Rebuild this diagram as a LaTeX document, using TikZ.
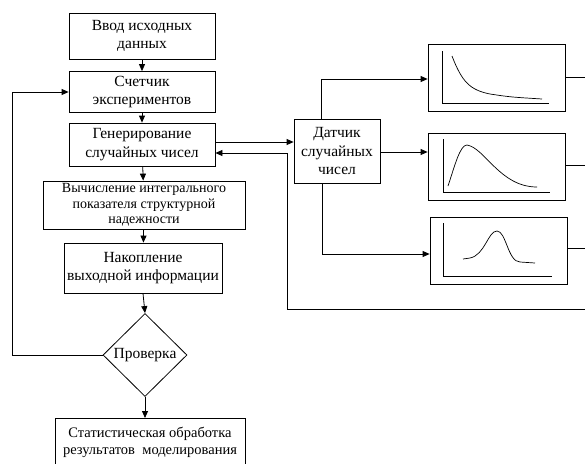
\documentclass[tikz,border=0pt]{standalone}
\usepackage{fontspec}
\setmainfont{Liberation Serif}
\usetikzlibrary{shapes.geometric,arrows.meta}
\begin{document}
\begin{tikzpicture}[x=1pt,y=-1pt,
  line width=0.8pt,
  box/.style={draw, rectangle, inner sep=0pt, align=center, font=\fontsize{15.5}{18.5}\selectfont},
  smallbox/.style={box, font=\fontsize{14}{15.5}\selectfont},
  statbox/.style={box, font=\fontsize{14.5}{16.5}\selectfont},
  dia/.style={draw, diamond, inner sep=0pt, minimum width=84, minimum height=83, font=\fontsize{15.5}{18.5}\selectfont},
  arr/.style={-{Triangle[length=7pt,width=6pt]}},
  curve/.style={line width=0.7pt}]
\useasboundingbox (0,0) rectangle (585,463);
\clip (0,0) rectangle (585,463);
% left column
\node[box, minimum width=146, minimum height=46] (b1) at (142,36) {Ввод исходных\\данных};
\node[box, minimum width=146, minimum height=41] (b2) at (142,92) {Счетчик\\экспериментов};
\node[box, minimum width=146, minimum height=43] (b3) at (142,144.5) {Генерирование\\случайных чисел};
\node[smallbox, minimum width=202, minimum height=48] (b4) at (144,205) {Вычисление интегрального\\показателя структурной\\надежности};
\node[box, minimum width=158, minimum height=50] (b5) at (143,268) {Накопление\\выходной информации};
\node[dia] (d) at (145,355) {Проверка};
\node[statbox, minimum width=190, minimum height=48, anchor=north] (b6) at (150,418) {Статистическая обработка\\результатов\ \ моделирования};
\draw[arr] (b1) -- (b2);
\draw[arr] (b2) -- (b3);
\draw[arr] (b3) -- (b4);
\draw[arr] (b4) -- (b5);
\draw[arr] (b5.south) -- (d.north);
\draw[arr] (d.south) -- (b6.north -| d.south);
\draw[arr] (d.west) -- (12,355) -- (12,92) -- (b2.west);
% generator
\node[box, minimum width=86, minimum height=64] (g) at (337,151) {Датчик\\случайных\\чисел};
\draw[arr] (b3.east |- 0,142) -- (g.west |- 0,142);
\coordinate (r0) at (590,309);
\draw[arr] (r0) -- (287,309) -- (287,153) -- (b3.east |- 0,153);
% distribution boxes
\node[draw, minimum width=137, minimum height=67, inner sep=0pt] (pa) at (496.5,77.5) {};
\node[draw, minimum width=137, minimum height=67, inner sep=0pt] (pb) at (496.5,166.5) {};
\node[draw, minimum width=137, minimum height=67, inner sep=0pt] (pc) at (498.5,250.5) {};
\draw[arr] (g.north -| 321,0) -- (321,79) -- (pa.west |- 0,79);
\draw[arr] (g.east |- 0,152) -- (pb.west |- 0,152);
\draw[arr] (g.south -| 322,0) -- (322,254) -- (pc.west |- 0,254);
\coordinate (ra) at (590,77);
\coordinate (rb) at (590,165);
\coordinate (rc) at (590,248);
\draw (pa.east |- 0,77) -- (ra);
\draw (pb.east |- 0,165) -- (rb);
\draw (pc.east |- 0,248) -- (rc);
% axes and curves
\draw[curve] (442,51) -- (442,103) -- (549,103);
\draw[curve] (452,56) .. controls (462,82) and (470,90) .. (490,94) .. controls (510,97) .. (542,99);
\draw[curve] (443,139) -- (443,192) -- (550,192);
\draw[curve] (448,186) .. controls (455,165) and (460,145) .. (467,145) .. controls (485,148) and (500,187) .. (537,187);
\draw[curve] (443,223) -- (443,276) -- (552,276);
\draw[curve] (463,259) -- (470,258) .. controls (485,255) and (488,231) .. (497,231) .. controls (506,231) and (508,262) .. (520,262) -- (535,263);
\end{tikzpicture}
\end{document}
